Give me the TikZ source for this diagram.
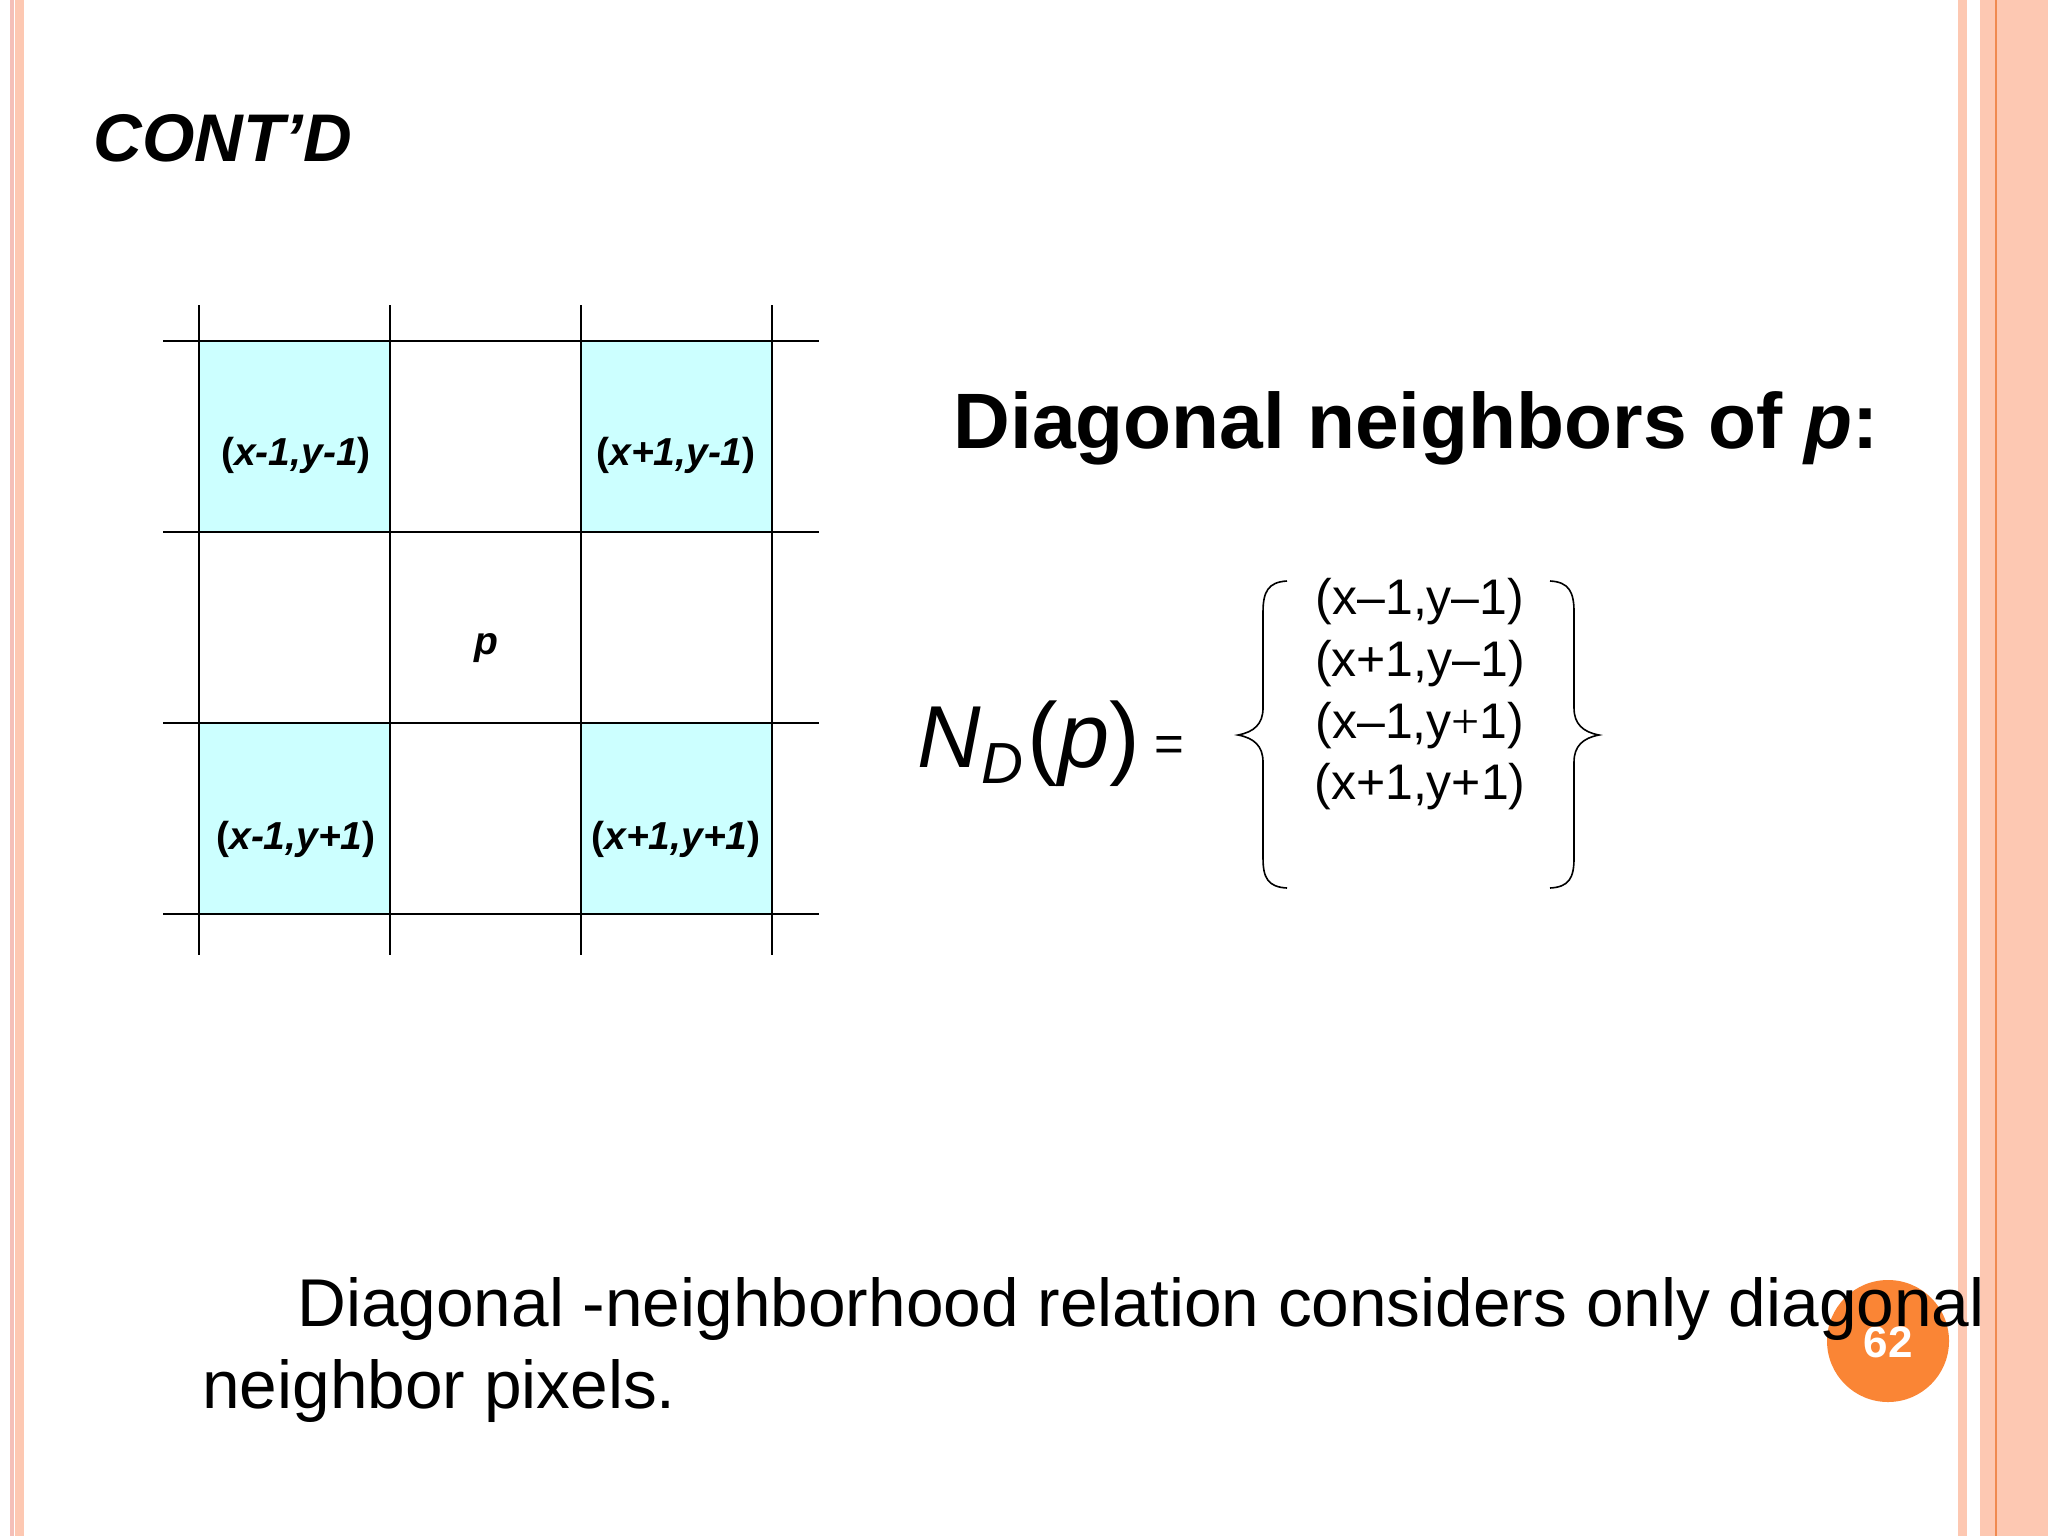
\documentclass[tikz,border=0pt]{standalone}
\usepackage{fontspec}
\setmainfont{Liberation Sans}
\newfontfamily\thinfont{Liberation Serif}
\definecolor{bordpink}{HTML}{F4BFB8}
\definecolor{bordpeach}{HTML}{FDC8B2}
\definecolor{orangeline}{HTML}{F08A50}
\definecolor{cellcyan}{HTML}{CCFFFF}
\definecolor{badge}{HTML}{FA8535}
\tikzset{
  gridline/.style={draw=black, line width=0.9pt},
  cellfill/.style={fill=cellcyan},
  celllabel/.style={inner sep=0pt, font=\fontsize{19.5}{22}\selectfont\bfseries},
  rowtext/.style={inner sep=0pt, anchor=base, font=\fontsize{25}{30}\selectfont},
  bracestyle/.style={draw=black, line width=0.8pt},
  bodytext/.style={inner sep=0pt, anchor=base west, font=\fontsize{33.8}{40}\selectfont},
}
\begin{document}
\begin{tikzpicture}[x=0.5pt,y=-0.5pt]
\useasboundingbox (0,0) rectangle (2048,1536);
\fill[white] (0,0) rectangle (2048,1536);
% page borders
\fill[bordpink] (10,0) rectangle (13.5,1536);
\fill[bordpeach] (15,0) rectangle (24,1536);
\fill[bordpeach] (1958,0) rectangle (1967,1536);
\fill[bordpeach] (1980,0) rectangle (2048,1536);
\draw[orangeline, line width=1pt] (1996,0) -- (1996,1536);

% title
\node[inner sep=0pt, anchor=base west, font=\fontsize{33.7}{40}\selectfont\bfseries\itshape] (title) at (93,161) {CONT’D};

% grid cells
\fill[cellfill] (199,341) rectangle (390,532);
\fill[cellfill] (581,341) rectangle (772,532);
\fill[cellfill] (199,723) rectangle (390,914);
\fill[cellfill] (581,723) rectangle (772,914);
\foreach \x in {199,390,581,772} \draw[gridline] (\x,305) -- (\x,955);
\foreach \y in {341,532,723,914} \draw[gridline] (163,\y) -- (819,\y);

\node[celllabel] (c11) at (296,455) {(\textit{x-1,y-1})};
\node[celllabel] (c31) at (676,455) {(\textit{x+1,y-1})};
\node[celllabel] (c13) at (296,839) {(\textit{x-1,y+1})};
\node[celllabel] (c33) at (676,839) {(\textit{x+1,y+1})};
\node[celllabel, anchor=base] (cp) at (486,654) {\textit{p}};

% heading
\node[inner sep=0pt, anchor=base west, font=\fontsize{39.3}{45}\selectfont\bfseries] (head) at (953,448) {Diagonal neighbors of \textit{p}:};

% N_D(p) =
\node[inner sep=0pt, anchor=base west, font=\fontsize{44}{50}\selectfont] (nd) at (917,767) {\textit{N}\raisebox{-8pt}{\fontsize{29}{32}\selectfont\textit{D}}\kern2.5pt{\fontsize{46}{50}\selectfont(\textit{p})}};
\node[inner sep=0pt, anchor=base, font=\fontsize{25.5}{30}\selectfont] (eq) at (1169,761) {=};

% braces
\draw[bracestyle] (1287,581) .. controls (1268,582) and (1263,592) .. (1263,612)
  -- (1263,708) .. controls (1263,724) and (1254,732) .. (1238,735)
  .. controls (1254,738) and (1263,746) .. (1263,762)
  -- (1263,858) .. controls (1263,878) and (1268,887) .. (1287,888);
\draw[bracestyle] (1550,581) .. controls (1569,582) and (1574,592) .. (1574,612)
  -- (1574,708) .. controls (1574,724) and (1583,732) .. (1599,735)
  .. controls (1583,738) and (1574,746) .. (1574,762)
  -- (1574,858) .. controls (1574,878) and (1569,887) .. (1550,888);

% set members
\node[rowtext] (r1) at (1420,614) {(x–1,y–1)};
\node[rowtext] (r2) at (1420,676) {(x+1,y–1)};
\node[rowtext] (r3) at (1420,738) {(x–1,y{\thinfont+}1)};
\node[rowtext] (r4) at (1420,799) {(x+1,y+1)};

% page number badge
\fill[badge] (1888,1341) circle[radius=61];
\node[inner sep=0pt, text=white, font=\fontsize{22}{26}\selectfont\bfseries] (pg) at (1888,1342) {62};

% bottom text
\node[bodytext] (b1) at (297,1326) {Diagonal -neighborhood relation considers only diagonal};
\node[bodytext] (b2) at (202,1408) {neighbor pixels.};
\end{tikzpicture}
\end{document}
